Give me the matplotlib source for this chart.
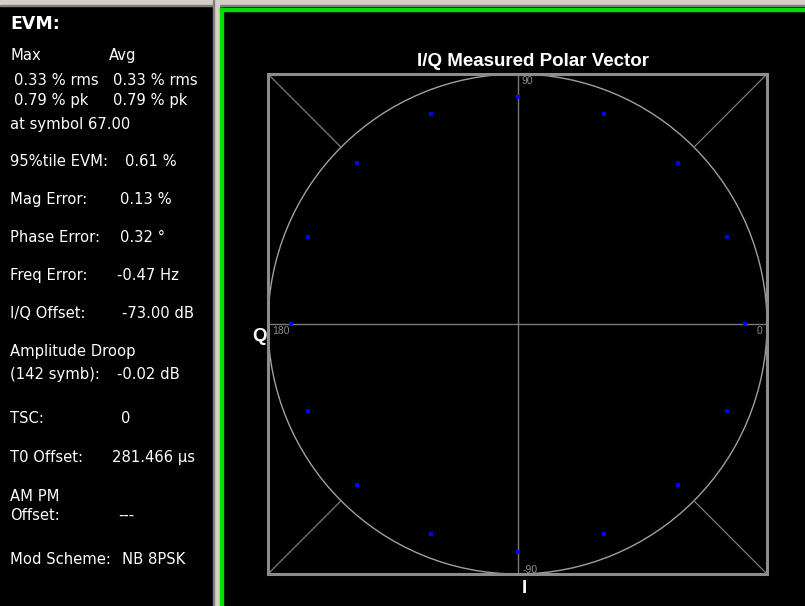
import numpy as np
import matplotlib
matplotlib.use("Agg")
import matplotlib.pyplot as plt
from matplotlib.patches import Rectangle, Circle

plt.rcParams['font.family'] = ['DejaVu Sans']

# ---- measurement summary (left panel) ----
evm_header = "EVM:"
summary_rows = [
    # (label, value, baseline_y, value_x)
    ("Max", "Avg", 60, 109),
    ("0.33 % rms", "0.33 % rms", 85, 113),
    ("0.79 % pk", "0.79 % pk", 105, 113),
    ("at symbol 67.00", "", 129, 0),
    ("95%tile EVM:", "0.61 %", 166, 125),
    ("Mag Error:", "0.13 %", 204, 120),
    ("Phase Error:", "0.32 °", 242, 120),
    ("Freq Error:", "-0.47 Hz", 280, 117),
    ("I/Q Offset:", "-73.00 dB", 318, 122),
    ("Amplitude Droop", "", 356, 0),
    ("(142 symb):", "-0.02 dB", 379, 117),
    ("TSC:", "0", 423, 121),
    ("T0 Offset:", "281.466 µs", 462, 112),
    ("AM PM", "", 501, 0),
    ("Offset:", "---", 520, 118),
    ("Mod Scheme:", "NB 8PSK", 564, 122),
]
indented = {"0.33 % rms", "0.79 % pk"}

# ---- measured symbol vectors (NB 8PSK, 3pi/8 rotation -> 16 phases) ----
symbol_phase_deg = [0.0, 22.5, 45.0, 67.5, 90.0, 112.5, 135.0, 157.5,
                    180.0, -157.5, -135.0, -112.5, -90.0, -67.5, -45.0, -22.5]
symbol_mag = [0.910, 0.908, 0.908, 0.908, 0.910, 0.908, 0.908, 0.908,
              0.906, 0.908, 0.908, 0.908, 0.910, 0.908, 0.908, 0.908]

plot_title = "I/Q Measured Polar Vector"
ring_labels = ["0", "90", "180", "-90"]

W, H = 805, 606
fig = plt.figure(figsize=(W / 100, H / 100), dpi=100, facecolor="black")

# background canvas in pixel coordinates
bg = fig.add_axes([0, 0, 1, 1])
bg.set_xlim(0, W)
bg.set_ylim(H, 0)
bg.axis("off")
bg.add_patch(Rectangle((0, 0), W, H, color="black", zorder=0))
# window frame strips
bg.add_patch(Rectangle((0, 0), W, 5, color="#d4d0c8", zorder=1))
bg.add_patch(Rectangle((0, 5), W, 1, color="#808080", zorder=1))
bg.add_patch(Rectangle((214, 0), 5, H, color="#d4d0c8", zorder=1))
bg.add_patch(Rectangle((213, 0), 1, H, color="#808080", zorder=1))
# green active-pane border
bg.add_patch(Rectangle((220, 8), 3, H - 8, color="#00e000", zorder=2))
bg.add_patch(Rectangle((220, 8), W - 220, 3, color="#00e000", zorder=2))

txt = dict(color="white", fontsize=10.6, va="baseline", ha="left")
bg.text(10, 29, evm_header, color="white", fontsize=12.5, fontweight="bold",
        va="baseline", ha="left")
for label, value, y, vx in summary_rows:
    bg.text(14 if label in indented else 10, y, label, **txt)
    if value:
        bg.text(vx, y, value, **txt)

# plot title and axis letters
bold = dict(color="white", fontweight="bold", family="Liberation Sans")
bg.text(533, 66, plot_title, fontsize=13.5, ha="center", va="baseline", **bold)
bg.text(259.5, 341, "Q", fontsize=13.5, ha="center", va="baseline", **bold)
bg.text(524.5, 593, "I", fontsize=13.5, ha="center", va="baseline", **bold)

# ---- polar vector plot in I/Q coordinates ----
left, right, top, bottom = 268, 767, 74, 574
ax = fig.add_axes([left / W, (H - bottom) / H, (right - left) / W, (bottom - top) / H])
ax.set_facecolor("none")
ax.set_xlim(-1, 1)
ax.set_ylim(-1, 1)
ax.set_xticks([])
ax.set_yticks([])
for s in ax.spines.values():
    s.set_color("#8c8c8c")
    s.set_linewidth(2.2)

ax.add_patch(Circle((0, 0), 1.0, fill=False, edgecolor="#a0a0a0", lw=1.0))
ax.axhline(0, color="#7a7a7a", lw=1.0)
ax.axvline(0, color="#7a7a7a", lw=1.0)
c45 = np.cos(np.pi / 4)
for sx in (-1, 1):
    for sy in (-1, 1):
        ax.plot([sx, sx * c45], [sy, sy * c45], color="#7a7a7a", lw=0.9)

lbl = dict(color="#8c8c8c", fontsize=7.5, family="Liberation Sans")
ax.text(0.018, 0.974, ring_labels[1], ha="left", va="center", **lbl)
ax.text(-0.982, -0.028, ring_labels[2], ha="left", va="center", **lbl)
ax.text(0.982, -0.028, ring_labels[0], ha="right", va="center", **lbl)
ax.text(0.020, -0.984, ring_labels[3], ha="left", va="center", **lbl)

ph = np.deg2rad(symbol_phase_deg)
mag = np.asarray(symbol_mag)
ax.scatter(mag * np.cos(ph), mag * np.sin(ph), marker="s", s=8,
           color="#0000ff", linewidths=0, zorder=5)

fig.savefig("out.png", dpi=100, facecolor="black")
